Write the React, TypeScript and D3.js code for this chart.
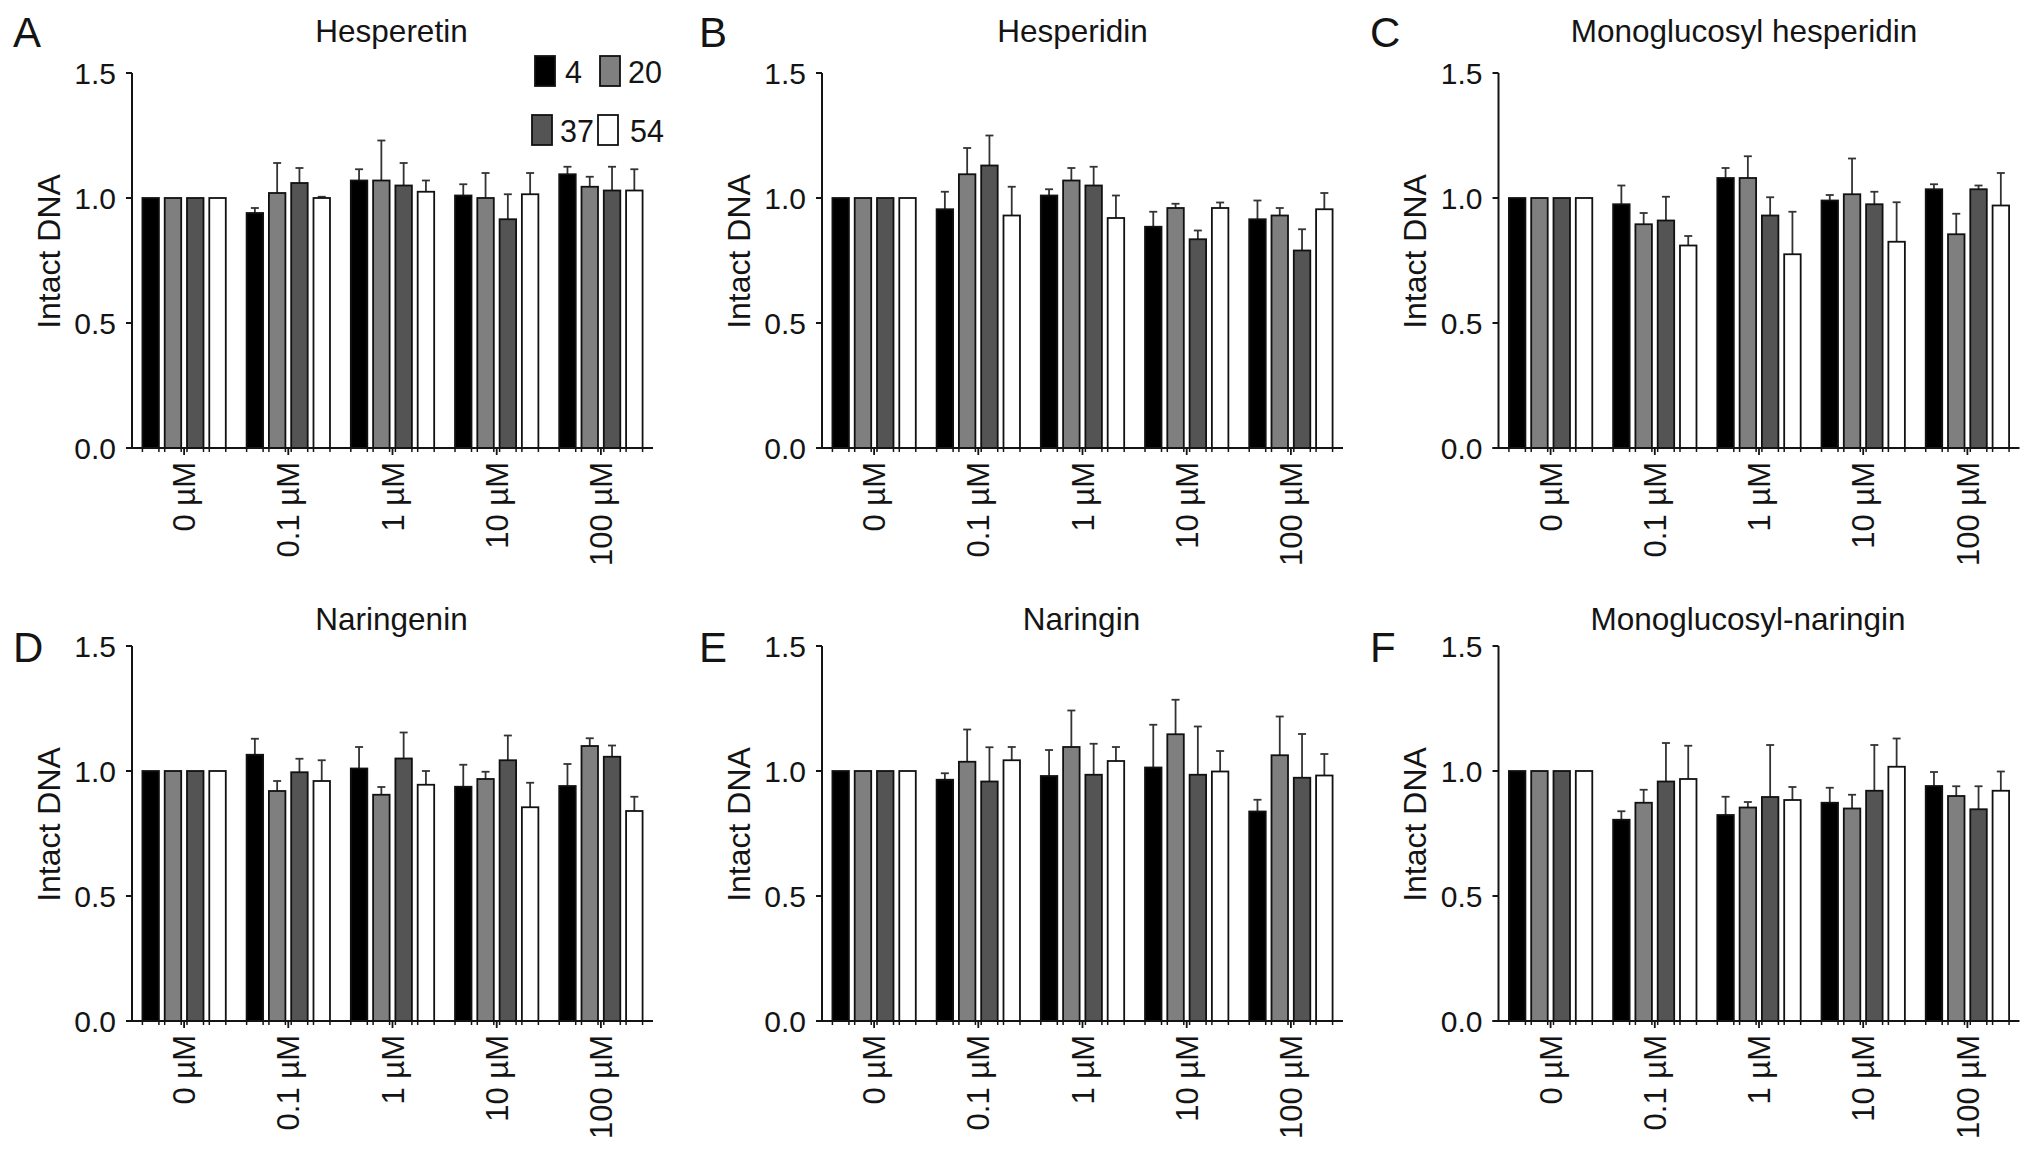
import React from "react";
import * as d3 from "d3";

// ── Data ─────────────────────────────────────────────────────────────

const concentrations = ["0 µM", "0.1 µM", "1 µM", "10 µM", "100 µM"];
const seriesKeys = ["4", "20", "37", "54"];
const seriesFill = ["#000000", "#7f7f7f", "#545454", "#ffffff"];
const yTicks = [0, 0.5, 1.0, 1.5];

const panelLetters = ["A", "B", "C", "D", "E", "F"];
const panelTitles = [
  "Hesperetin",
  "Hesperidin",
  "Monoglucosyl hesperidin",
  "Naringenin",
  "Naringin",
  "Monoglucosyl-naringin",
];

// mean[concentration][series], err = upper error bar length
const hesperetinMean = [[1, 1, 1, 1], [0.94, 1.02, 1.06, 1.0], [1.07, 1.07, 1.05, 1.025], [1.01, 1.0, 0.915, 1.015], [1.095, 1.045, 1.03, 1.03]];
const hesperetinErr = [[0, 0, 0, 0], [0.02, 0.12, 0.06, 0.005], [0.045, 0.16, 0.09, 0.045], [0.045, 0.1, 0.1, 0.085], [0.03, 0.04, 0.095, 0.085]];

const hesperidinMean = [[1, 1, 1, 1], [0.955, 1.095, 1.13, 0.93], [1.01, 1.07, 1.05, 0.92], [0.885, 0.96, 0.835, 0.96], [0.915, 0.93, 0.79, 0.955]];
const hesperidinErr = [[0, 0, 0, 0], [0.07, 0.105, 0.12, 0.115], [0.025, 0.05, 0.075, 0.09], [0.06, 0.017, 0.035, 0.022], [0.075, 0.03, 0.085, 0.065]];

const mgHesperidinMean = [[1, 1, 1, 1], [0.975, 0.895, 0.91, 0.81], [1.08, 1.08, 0.93, 0.775], [0.99, 1.015, 0.975, 0.825], [1.035, 0.855, 1.035, 0.97]];
const mgHesperidinErr = [[0, 0, 0, 0], [0.075, 0.045, 0.095, 0.038], [0.04, 0.087, 0.073, 0.17], [0.022, 0.143, 0.05, 0.158], [0.02, 0.082, 0.015, 0.13]];

const naringeninMean = [[1, 1, 1, 1], [1.065, 0.92, 0.995, 0.96], [1.01, 0.905, 1.05, 0.945], [0.937, 0.968, 1.043, 0.855], [0.94, 1.1, 1.057, 0.84]];
const naringeninErr = [[0, 0, 0, 0], [0.064, 0.04, 0.054, 0.083], [0.086, 0.031, 0.104, 0.055], [0.088, 0.029, 0.099, 0.098], [0.088, 0.031, 0.045, 0.057]];

const naringinMean = [[1, 1, 1, 1], [0.965, 1.037, 0.958, 1.043], [0.98, 1.096, 0.985, 1.04], [1.014, 1.147, 0.985, 0.998], [0.838, 1.063, 0.973, 0.982]];
const naringinErr = [[0, 0, 0, 0], [0.026, 0.129, 0.137, 0.053], [0.104, 0.146, 0.124, 0.056], [0.171, 0.138, 0.193, 0.082], [0.047, 0.155, 0.175, 0.086]];

const mgNaringinMean = [[1, 1, 1, 1], [0.805, 0.873, 0.958, 0.968], [0.824, 0.854, 0.896, 0.884], [0.873, 0.85, 0.921, 1.017], [0.94, 0.9, 0.847, 0.921]];
const mgNaringinErr = [[0, 0, 0, 0], [0.034, 0.052, 0.154, 0.133], [0.073, 0.022, 0.208, 0.052], [0.06, 0.055, 0.183, 0.113], [0.056, 0.039, 0.092, 0.077]];

const panelMeans = [hesperetinMean, hesperidinMean, mgHesperidinMean, naringeninMean, naringinMean, mgNaringinMean];
const panelErrs = [hesperetinErr, hesperidinErr, mgHesperidinErr, naringeninErr, naringinErr, mgNaringinErr];

// ── Layout ───────────────────────────────────────────────────────────

const W = 2032;
const H = 1152;
const FONT = "'Liberation Sans', Arial, Helvetica, sans-serif";
const INK = "#141414";

const colX = [132, 822, 1498.5];
const rowTop = [73, 646];
const PLOT_W = 521;
const PLOT_H = 375;
const letterX = [13, 699, 1370];
const letterBase = [47, 662];
const titleBase = [42, 630];
const titleDx = [-1, -10, -15, -1, -1, -11];

// ── Panel ────────────────────────────────────────────────────────────

function Panel({ index }: { index: number }) {
  const col = index % 3;
  const row = Math.floor(index / 3);
  const means = panelMeans[index];
  const errs = panelErrs[index];

  const x0 = d3
    .scaleBand<string>()
    .domain(concentrations)
    .range([0, PLOT_W])
    .paddingInner(0.2)
    .paddingOuter(0.1);

  const x1 = d3
    .scaleBand<string>()
    .domain(seriesKeys)
    .range([0, x0.bandwidth()])
    .paddingInner(0.26);

  const y = d3.scaleLinear().domain([0, 1.5]).range([PLOT_H, 0]);
  const fmt = d3.format(".1f");
  const bw = x1.bandwidth();

  return (
    <g>
      {/* panel letter */}
      <text
        x={letterX[col]}
        y={letterBase[row]}
        fontSize={42}
        fill={INK}
        fontFamily={FONT}
      >
        {panelLetters[index]}
      </text>

      <g transform={`translate(${colX[col]},${rowTop[row]})`}>
        {/* title */}
        <text
          x={PLOT_W / 2 + titleDx[index]}
          y={titleBase[row] - rowTop[row]}
          textAnchor="middle"
          fontSize={31.5}
          fill={INK}
          fontFamily={FONT}
        >
          {panelTitles[index]}
        </text>

        {/* y label */}
        <text
          transform={`translate(-84,${PLOT_H / 2 - 9}) rotate(-90)`}
          textAnchor="middle"
          dy="0.36em"
          fontSize={32}
          fill={INK}
          fontFamily={FONT}
        >
          Intact DNA
        </text>

        {/* bars + error bars */}
        {concentrations.map((c, gi) => (
          <g key={c} transform={`translate(${x0(c)},0)`}>
            {seriesKeys.map((s, si) => {
              const v = means[gi][si];
              const e = errs[gi][si];
              const bx = x1(s) as number;
              const cx = bx + bw / 2;
              return (
                <g key={s}>
                  {e > 0 && (
                    <g stroke="#333" strokeWidth={1.8}>
                      <line x1={cx} x2={cx} y1={y(v)} y2={y(v + e)} />
                      <line x1={cx - 4} x2={cx + 4} y1={y(v + e)} y2={y(v + e)} />
                    </g>
                  )}
                  <rect
                    x={bx}
                    y={y(v)}
                    width={bw}
                    height={PLOT_H - y(v)}
                    fill={seriesFill[si]}
                    stroke="#111"
                    strokeWidth={1.8}
                  />
                </g>
              );
            })}
          </g>
        ))}

        {/* y axis */}
        <line x1={0} x2={0} y1={0} y2={PLOT_H} stroke={INK} strokeWidth={2} />
        {yTicks.map((t) => (
          <g key={t} transform={`translate(0,${y(t)})`}>
            <line x1={-6} x2={0} stroke={INK} strokeWidth={2} />
            <text
              x={-16}
              dy="0.36em"
              textAnchor="end"
              fontSize={30}
              fill={INK}
              fontFamily={FONT}
            >
              {fmt(t)}
            </text>
          </g>
        ))}

        {/* x axis */}
        <line x1={-6} x2={PLOT_W} y1={PLOT_H} y2={PLOT_H} stroke={INK} strokeWidth={2} />
        {concentrations.map((c) => {
          const gx = x0(c) as number;
          const center = gx + x0.bandwidth() / 2;
          return (
            <g key={c}>
              {seriesKeys.map((s) => {
                const bx = gx + (x1(s) as number);
                return (
                  <g key={s} stroke={INK} strokeWidth={1.5}>
                    <line x1={bx} x2={bx} y1={PLOT_H} y2={PLOT_H + 4} />
                    <line x1={bx + bw} x2={bx + bw} y1={PLOT_H} y2={PLOT_H + 4} />
                  </g>
                );
              })}
              <line
                x1={center}
                x2={center}
                y1={PLOT_H}
                y2={PLOT_H + 7}
                stroke={INK}
                strokeWidth={1.8}
              />
              <text
                transform={`translate(${center},${PLOT_H + 14}) rotate(-90)`}
                textAnchor="end"
                dy="0.36em"
                fontSize={31}
                fill={INK}
                fontFamily={FONT}
              >
                {c}
              </text>
            </g>
          );
        })}
      </g>
    </g>
  );
}

// ── Legend (panel A only) ────────────────────────────────────────────

const legendBoxX = [535, 600, 532, 598];
const legendTextX = [565, 628, 560, 630];
const legendBase = [83, 142];

function Legend() {
  return (
    <g>
      {seriesKeys.map((s, i) => {
        const r = Math.floor(i / 2);
        return (
          <g key={s}>
            <rect
              x={legendBoxX[i]}
              y={legendBase[r] - 27}
              width={20}
              height={30}
              fill={seriesFill[i]}
              stroke="#111"
              strokeWidth={1.8}
            />
            <text
              x={legendTextX[i]}
              y={legendBase[r]}
              fontSize={30.5}
              fill={INK}
              fontFamily={FONT}
            >
              {s}
            </text>
          </g>
        );
      })}
    </g>
  );
}

export default function App() {
  return (
    <svg
      width={W}
      height={H}
      style={{ position: "absolute", left: 0, top: 0, background: "#fff" }}
    >
      <rect width={W} height={H} fill="#fff" />
      {panelTitles.map((t, i) => (
        <Panel key={t} index={i} />
      ))}
      <Legend />
    </svg>
  );
}
